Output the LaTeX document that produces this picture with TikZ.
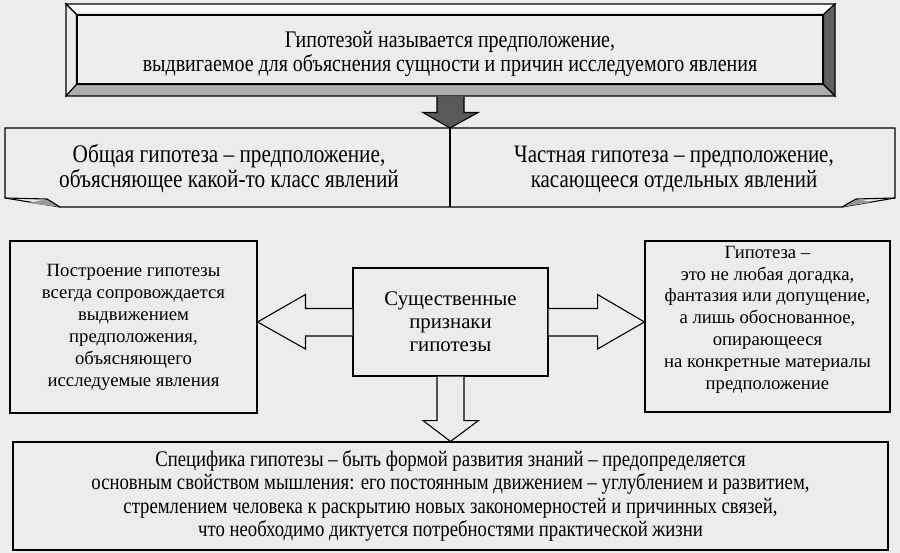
\documentclass[tikz,border=0pt]{standalone}
\usepackage{fontspec}
\setmainfont{Liberation Serif}
\newfontfamily\narrowfont[FakeStretch=0.84]{Liberation Serif}
\usetikzlibrary{calc}
\definecolor{paper}{HTML}{ECECEC}

\begin{document}
\begin{tikzpicture}[
    x=1pt, y=-1pt,
    line width=1.1pt,
    box/.style={draw, fill=paper, align=center, inner sep=0pt,
        font=\fontsize{18.7}{22}\selectfont},
    narrow text/.style={align=center, font=\narrowfont\fontsize{23.8}{24.5}\selectfont},
    block arrow/.style={draw, fill=paper, line join=miter},
    fold/.style={fill=black!40, draw=none},
    ]

    % page
    \fill[paper] (0,0) rectangle (900,553);
    \useasboundingbox (0,0) rectangle (900,553);

    % title with bevelled frame
    \coordinate (f1) at (66,4);   \coordinate (f2) at (835,4);
    \coordinate (f3) at (835,96); \coordinate (f4) at (66,96);
    \node[box, minimum width=746pt, minimum height=69pt] (def) at (450,49.5) {};
    \node[narrow text] (deftext) at ($(def)+(0,4.5)$)
        {Гипотезой называется предположение,\\
         выдвигаемое для объяснения сущности и причин исследуемого явления};
    \filldraw[fill=white!70!paper] (f1) -- (f2) -- (def.north east) -- (def.north west) -- cycle;
    \filldraw[fill=black!8] (f1) -- (def.north west) -- (def.south west) -- (f4) -- cycle;
    \filldraw[fill=black!62] (f2) -- (f3) -- (def.south east) -- (def.north east) -- cycle;
    \filldraw[fill=black!32] (f4) -- (def.south west) -- (def.south east) -- (f3) -- cycle;

    % band with folded corners
    \coordinate (b1) at (5,128);   \coordinate (b2) at (895,128);
    \coordinate (b3) at (895,198); \coordinate (b4) at (842,207);
    \coordinate (b5) at (60,207);  \coordinate (b6) at (5,198);
    \coordinate (bandtop) at (450,128);
    \draw (b1) -- (b2) -- (b3) -- (b4) -- (b5) -- (b6) -- cycle;
    \fill[fold] (28,203) -- (47,199) -- (b5) -- cycle;
    \draw (b6) -- (47,199) -- (b5);
    \fill[fold] (872,202) -- (856,199) -- (b4) -- cycle;
    \draw (b3) -- (856,199) -- (b4);
    \draw (bandtop) -- (bandtop |- b4);
    \node[narrow text, font=\narrowfont\fontsize{25.3}{25}\selectfont] (general) at (229,169)
        {Общая гипотеза – предположение,\\ объясняющее какой-то класс явлений};
    \node[narrow text, font=\narrowfont\fontsize{25}{25}\selectfont] (particular) at (674,169)
        {Частная гипотеза – предположение,\\ касающееся отдельных явлений};

    % dark arrow
    \filldraw[fill=black!65, line join=miter] ($(def.south)+(-13,12)$) -- ($(def.south)+(-13,28)$)
        -- ($(def.south)+(-27,28)$) -- (bandtop) -- ($(def.south)+(28,28)$)
        -- ($(def.south)+(14,28)$) -- ($(def.south)+(14,12)$);

    % boxes
    \node[box, minimum width=247pt, minimum height=172pt] (build) at (133.5,327)
        {Построение гипотезы\\ всегда сопровождается\\ выдвижением\\
         предположения,\\ объясняющего\\ исследуемые явления};
    \node[box, font=\fontsize{20.8}{23}\selectfont, minimum width=195pt, minimum height=108pt]
        (sign) at (450.5,322) {Существенные\\ признаки\\ гипотезы};
    \node[box, minimum width=245pt, minimum height=171pt] (guess) at (767.5,326.5) {};
    \node[align=center, font=\fontsize{18.7}{21.8}\selectfont] (guesstext) at ($(guess)+(0,-7)$)
        {Гипотеза –\\ это не любая догадка,\\ фантазия или допущение,\\
         а лишь обоснованное,\\ опирающееся\\ на конкретные материалы\\ предположение};
    \node[box, narrow text, font=\narrowfont\fontsize{22.3}{23.5}\selectfont,
        minimum width=875pt, minimum height=108pt] (spec) at (450.5,496)
        {Специфика гипотезы – быть формой развития знаний – предопределяется\\
         основным свойством мышления: его постоянным движением – углублением и развитием,\\
         стремлением человека к раскрытию новых закономерностей и причинных связей,\\
         что необходимо диктуется потребностями практической жизни};

    % block arrows
    \draw[block arrow] ($(sign.west)+(0,-13.5)$) -- ++(-47,0) -- ++(0,-14)
        -- (build.east |- sign.west) -- ($(sign.west)+(-47,27)$) -- ++(0,-13) -- ++(47,0);
    \draw[block arrow] ($(sign.east)+(0,-13.5)$) -- ++(49,0) -- ++(0,-14)
        -- (guess.west |- sign.east) -- ($(sign.east)+(49,27)$) -- ++(0,-13) -- ++(-49,0);
    \draw[block arrow] ($(sign.south)+(-13.5,0)$) -- ++(0,44) -- ++(-14,0)
        -- (spec.north) -- ($(sign.south)+(28,44)$) -- ++(-14.5,0) -- ++(0,-44);
\end{tikzpicture}
\end{document}
